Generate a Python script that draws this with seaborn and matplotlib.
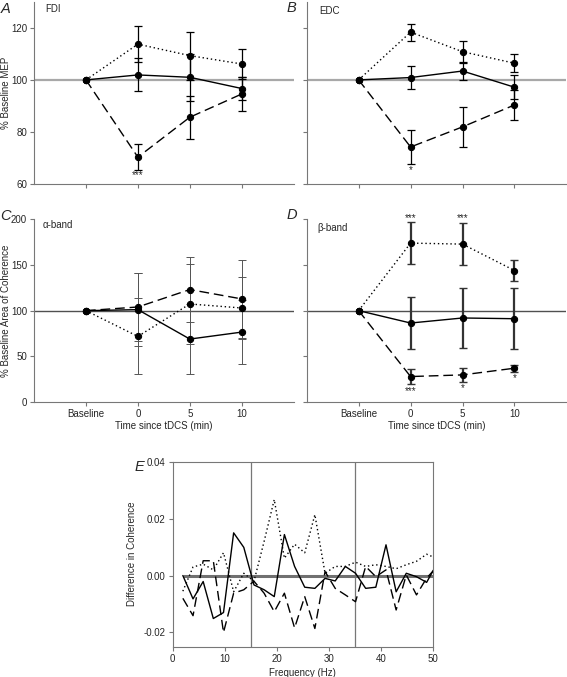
import matplotlib
matplotlib.use("Agg")
import matplotlib.pyplot as plt
import pandas as pd
import seaborn as sns
from matplotlib.ticker import FormatStrFormatter


time_labels = ["Baseline", "0", "5", "10"]
time_pos = [0, 1, 2, 3]

fdi_solid = [100, 101.9, 101.0, 96.7]
fdi_solid_err = [0, 6.3, 8.9, 4.5]
fdi_dotted = [100, 113.7, 109.3, 106.1]
fdi_dotted_err = [0, 6.9, 9.2, 5.7]
fdi_dashed = [100, 70.4, 85.7, 94.6]
fdi_dashed_err = [0, 5.0, 8.2, 6.6]

edc_solid = [100, 100.9, 103.4, 97.2]
edc_solid_err = [0, 4.3, 3.3, 4.5]
edc_dotted = [100, 118.3, 110.8, 106.4]
edc_dotted_err = [0, 3.3, 4.2, 3.5]
edc_dashed = [100, 74.3, 82.0, 90.4]
edc_dashed_err = [0, 6.4, 7.6, 5.7]

alpha_solid = [100, 101.1, 69.0, 76.6]
alpha_solid_err = [0, 40.0, 38.0, 34.6]
alpha_dotted = [100, 71.9, 107.3, 102.9]
alpha_dotted_err = [0, 41.5, 44.0, 34.0]
alpha_dashed = [100, 104.0, 123.0, 112.8]
alpha_dashed_err = [0, 37.0, 35.0, 42.3]

beta_solid = [100, 86.5, 92.0, 91.2]
beta_solid_err = [0, 28.8, 32.7, 33.0]
beta_dotted = [100, 173.7, 172.6, 143.8]
beta_dotted_err = [0, 22.5, 23.0, 11.2]
beta_dashed = [100, 28.1, 29.9, 37.2]
beta_dashed_err = [0, 8.2, 7.6, 4.0]

fdi_stars = [(1, 63.7, "***")]
edc_stars = [(1, 65.5, "*")]
beta_stars = [(1, 201.5, "***"), (2, 201.5, "***"), (1, 12.4, "***"), (2, 16.0, "*"), (3, 26.3, "*")]

freq_hz = [1.95, 3.91, 5.86, 7.81, 9.77, 11.72, 13.67, 15.63, 17.58, 19.53, 21.48, 23.44, 25.39,
           27.34, 29.30, 31.25, 33.20, 35.16, 37.11, 39.06, 41.02, 42.97, 44.92, 46.88, 48.83, 50.78]
coh_solid = [0.0, -0.0082, -0.0021, -0.0151, -0.0130, 0.0150, 0.0099, -0.0033, -0.0050, -0.0074,
             0.0144, 0.0032, -0.0041, -0.0045, -0.0010, -0.0019, 0.0032, 0.0008, -0.0045, -0.0041,
             0.0108, -0.0057, 0.0008, -0.0004, -0.0024, 0.0040]
coh_dashed = [-0.0080, -0.0141, 0.0052, 0.0052, -0.0200, -0.0062, -0.0050, -0.0020, -0.0062, -0.0127,
              -0.0062, -0.0184, -0.0074, -0.0186, 0.0014, -0.0045, -0.0068, -0.0092, 0.0032, -0.0004,
              0.0020, -0.0121, 0.0002, -0.0068, -0.0009, 0.0030]
coh_dotted = [-0.0055, 0.0030, 0.0040, 0.0020, 0.0080, -0.0057, 0.0008, -0.0020, 0.0120, 0.0267,
              0.0061, 0.0110, 0.0080, 0.0214, 0.0008, 0.0032, 0.0032, 0.0047, 0.0032, 0.0038,
              0.0032, 0.0024, 0.0038, 0.0050, 0.0075, 0.0060]
band_edges = [15, 35]

sns.set_theme(style="ticks")
plt.rcParams["font.family"] = ["Liberation Sans", "DejaVu Sans"]
plt.rcParams["axes.unicode_minus"] = False

DASHES = {"solid": "", "dashed": (7, 3.5), "dotted": (1, 2)}
MARKERS = {"solid": "o", "dashed": "o", "dotted": "o"}
W, H = 567, 677


def box(x0, y0, x1, y1):
    return [x0 / W, 1 - y1 / H, (x1 - x0) / W, (y1 - y0) / H]


def time_panel(ax, series, ylim, yticks, hline_color, hline_lw, err_color, err_lw, show_x, show_y):
    rows = []
    for name, vals, errs in series:
        for p, v in zip(time_pos, vals):
            rows.append({"pos": p, "value": v, "cond": name})
        ax.errorbar(time_pos[1:], vals[1:], yerr=errs[1:], fmt="none", ecolor=err_color,
                    elinewidth=err_lw, capsize=3, capthick=min(err_lw, 1.0), zorder=2)
    df = pd.DataFrame(rows)
    ax.axhline(100, color=hline_color, lw=hline_lw, zorder=1)
    sns.lineplot(data=df, x="pos", y="value", style="cond", dashes=DASHES, markers=MARKERS,
                 color="black", lw=1, markersize=4.5, markeredgecolor="black", legend=False,
                 ax=ax, zorder=3)
    ax.set_xlim(-1, 4)
    ax.set_ylim(*ylim)
    ax.set_xticks(time_pos)
    ax.set_yticks(yticks)
    ax.set_xticklabels(time_labels if show_x else [])
    if not show_y:
        ax.set_yticklabels([])
    ax.set_xlabel("Time since tDCS (min)" if show_x else "", fontsize=7, labelpad=1)
    ax.set_ylabel("")
    ax.tick_params(labelsize=7, length=3, width=0.8, color="#777777", pad=2)
    sns.despine(ax=ax)
    for s in ("left", "bottom"):
        ax.spines[s].set_color("#777777")
        ax.spines[s].set_linewidth(0.8)


fig = plt.figure(figsize=(W / 100, H / 100), dpi=100)

ax_a = fig.add_axes(box(34, 1.6, 293.7, 184.3))
time_panel(ax_a, [("solid", fdi_solid, fdi_solid_err), ("dotted", fdi_dotted, fdi_dotted_err),
                  ("dashed", fdi_dashed, fdi_dashed_err)],
           (60, 130), [60, 80, 100, 120], "#a8a8a8", 1.6, "black", 0.9, False, True)
ax_a.set_ylabel("% Baseline MEP", fontsize=7)
ax_a.yaxis.set_label_coords(-0.088, 0.5)
for x, y, s in fdi_stars:
    ax_a.text(x, y, s, ha="center", va="center", fontsize=7)
ax_a.text(-0.78, 127, "FDI", fontsize=7, va="center")

ax_b = fig.add_axes(box(306.7, 1.6, 566.4, 184.3))
time_panel(ax_b, [("solid", edc_solid, edc_solid_err), ("dotted", edc_dotted, edc_dotted_err),
                  ("dashed", edc_dashed, edc_dashed_err)],
           (60, 130), [60, 80, 100, 120], "#a8a8a8", 1.6, "black", 0.9, False, False)
for x, y, s in edc_stars:
    ax_b.text(x, y, s, ha="center", va="center", fontsize=7)
ax_b.text(-0.75, 126.5, "EDC", fontsize=7, va="center")

ax_c = fig.add_axes(box(34, 219, 293.7, 402.3))
time_panel(ax_c, [("solid", alpha_solid, alpha_solid_err), ("dotted", alpha_dotted, alpha_dotted_err),
                  ("dashed", alpha_dashed, alpha_dashed_err)],
           (0, 200), [0, 50, 100, 150, 200], "#505050", 1.0, "#555555", 0.7, True, True)
ax_c.set_ylabel("% Baseline Area of Coherence", fontsize=7)
ax_c.yaxis.set_label_coords(-0.088, 0.5)
ax_c.text(-0.84, 193, "\u03b1-band", fontsize=7, va="center")

ax_d = fig.add_axes(box(306.7, 219, 566.4, 402.3))
time_panel(ax_d, [("solid", beta_solid, beta_solid_err), ("dotted", beta_dotted, beta_dotted_err),
                  ("dashed", beta_dashed, beta_dashed_err)],
           (0, 200), [0, 50, 100, 150, 200], "#505050", 1.0, "#333333", 1.6, True, False)
for x, y, s in beta_stars:
    ax_d.text(x, y, s, ha="center", va="center", fontsize=7, clip_on=False)
ax_d.text(-0.8, 190, "\u03b2-band", fontsize=7, va="center")

ax_e = fig.add_axes(box(172.7, 461.7, 432.7, 646.7))
coh_df = pd.DataFrame({
    "freq": freq_hz * 3,
    "diff": coh_solid + coh_dashed + coh_dotted,
    "cond": ["solid"] * len(freq_hz) + ["dashed"] * len(freq_hz) + ["dotted"] * len(freq_hz),
})
for edge in band_edges:
    ax_e.axvline(edge, color="#777777", lw=0.9, zorder=1)
ax_e.hlines(0, freq_hz[0], 50, color="#707070", lw=2.2, zorder=1)
sns.lineplot(data=coh_df, x="freq", y="diff", style="cond", dashes=DASHES, color="black",
             lw=1, legend=False, ax=ax_e, zorder=3)
ax_e.set_xlim(0, 50)
ax_e.set_ylim(-0.025, 0.04)
ax_e.set_xticks([0, 10, 20, 30, 40, 50])
ax_e.set_yticks([-0.02, 0.0, 0.02, 0.04])
ax_e.yaxis.set_major_formatter(FormatStrFormatter("%.2f"))
ax_e.set_xlabel("Frequency (Hz)", fontsize=7, labelpad=3)
ax_e.set_ylabel("Difference in Coherence", fontsize=7, labelpad=5)
ax_e.tick_params(labelsize=7, length=3, width=0.8, color="#777777", pad=2)
for s in ax_e.spines.values():
    s.set_color("#777777")
    s.set_linewidth(0.8)

for letter, x, y in [("A", 1, 9), ("B", 287, 8), ("C", 0, 216), ("D", 287, 215), ("E", 135, 467)]:
    fig.text(x / W, 1 - y / H, letter, fontsize=10.5, style="italic", va="center", ha="left")

plt.savefig("out.png", dpi=100)
plt.close()
